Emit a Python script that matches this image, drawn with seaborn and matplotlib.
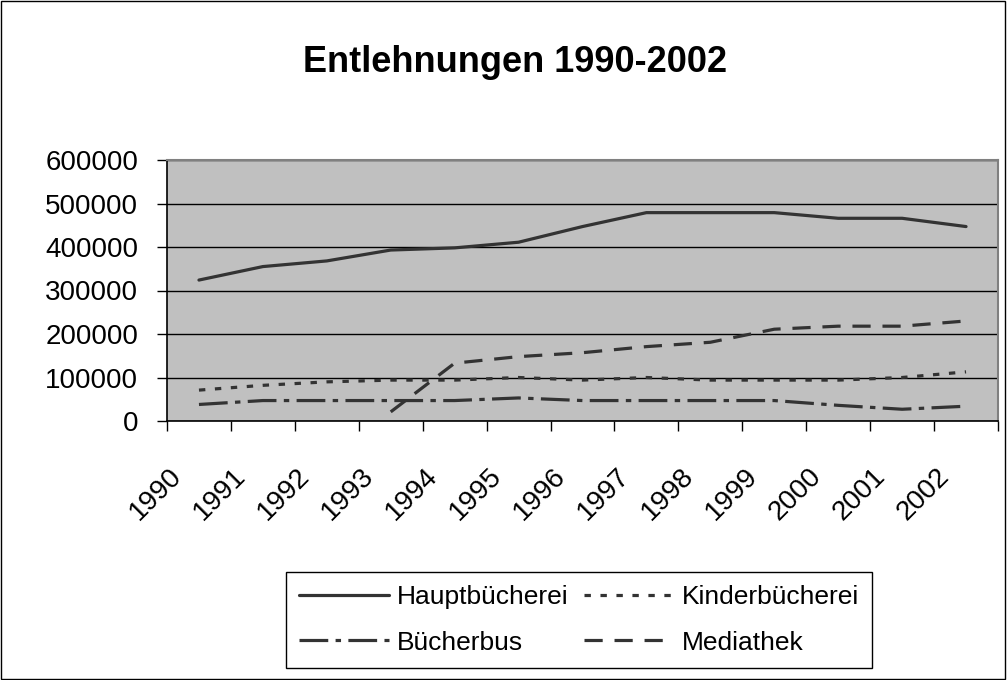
import numpy as np
import pandas as pd
import seaborn as sns
import matplotlib.pyplot as plt
import matplotlib.transforms as mtransforms
from matplotlib.patches import Rectangle

years = ["1990", "1991", "1992", "1993", "1994", "1995", "1996",
         "1997", "1998", "1999", "2000", "2001", "2002"]
haupt = [324000, 355000, 368000, 393000, 398000, 411000, 447000,
         479000, 479000, 479000, 466000, 466000, 447000]
kinder = [71000, 82000, 90000, 94000, 94000, 100000, 94000,
          100000, 94000, 94000, 94000, 100000, 113000]
bus = [38000, 47000, 47000, 47000, 47000, 53000, 47000,
       47000, 47000, 47000, 36000, 27000, 34000]
media = [np.nan, np.nan, np.nan, 21000, 133000, 148000, 157000,
         171000, 181000, 211000, 218000, 218000, 230000]
yticks = [0, 100000, 200000, 300000, 400000, 500000, 600000]

sns.set_theme(style="white")
plt.rcParams["font.family"] = ["Liberation Sans", "DejaVu Sans"]
plt.rcParams["text.color"] = "black"

df = pd.DataFrame({"pos": np.arange(len(years)), "Jahr": years,
                   "Hauptbücherei": haupt, "Kinderbücherei": kinder,
                   "Bücherbus": bus, "Mediathek": media})

fig = plt.figure(figsize=(10.07, 6.8), dpi=100)
ax = fig.add_axes([167 / 1007, 1 - 421 / 680, (998 - 167) / 1007, (421 - 160) / 680])
ax.set_facecolor("#c0c0c0")

line_col = "#333333"
styles = {
    "Hauptbücherei": "-",
    "Kinderbücherei": (0, (2, 3)),
    "Bücherbus": (0, (9, 2.3, 1.7, 2.3)),
    "Mediathek": (0, (5.7, 3.7)),
}
handles = {}
for name, ls in styles.items():
    sub = df[["pos", name]].dropna()
    sns.lineplot(data=sub, x="pos", y=name, ax=ax, color=line_col,
                 linestyle=ls, linewidth=2.3, label=name, legend=False)
    handles[name] = ax.get_lines()[-1]

ax.set_xlim(-0.5, len(years) - 0.5)
ax.set_ylim(0, 600000)
ax.set_xlabel("")
ax.set_ylabel("")

# y axis
ax.set_yticks(yticks)
ax.set_yticklabels([str(v) for v in yticks])
ax.yaxis.grid(True, color="black", linewidth=1)
ax.xaxis.grid(False)
ax.tick_params(axis="y", which="major", direction="out", length=7.2, width=1,
               color="black", left=True, pad=13.5, labelsize=20, labelcolor="black")

# x axis: ticks between categories, labels at category centres
ax.set_xticks(df["pos"])
ax.set_xticklabels(years)
ax.set_xticks(np.arange(len(years) + 1) - 0.5, minor=True)
ax.tick_params(axis="x", which="major", length=0, pad=37, labelsize=20,
               labelcolor="black")
ax.tick_params(axis="x", which="minor", direction="out", length=7.5, width=1,
               color="black", bottom=True)
offset = mtransforms.ScaledTranslation(-0.21, 0, fig.dpi_scale_trans)
for lab in ax.get_xticklabels():
    lab.set_rotation(45)
    lab.set_ha("right")
    lab.set_va("center")
    lab.set_rotation_mode("anchor")
    lab.set_transform(lab.get_transform() + offset)

for side in ["left", "bottom"]:
    ax.spines[side].set_color("black")
    ax.spines[side].set_linewidth(1.2)
for side in ["top", "right"]:
    ax.spines[side].set_color("#808080")
    ax.spines[side].set_linewidth(1.5)

fig.text(515 / 1007, 1 - 62 / 680, "Entlehnungen 1990-2002", ha="center",
         va="center", fontsize=26, fontweight="bold", color="black")

order = ["Hauptbücherei", "Bücherbus", "Kinderbücherei", "Mediathek"]
leg = fig.legend([handles[n] for n in order], order, loc="center",
                 bbox_to_anchor=(579 / 1007, 1 - 620 / 680), ncol=2, fontsize=19,
                 frameon=True, fancybox=False, framealpha=1, edgecolor="black",
                 handlelength=3.4, handletextpad=0.3, columnspacing=0.6,
                 labelspacing=0.8, borderpad=0.5, labelcolor="black")
leg.get_frame().set_linewidth(1)

fig.patches.append(Rectangle((0.0005, 0.0008), 0.998, 0.998, transform=fig.transFigure,
                             fill=False, edgecolor="black", linewidth=1))

fig.savefig("out.png", dpi=100)
